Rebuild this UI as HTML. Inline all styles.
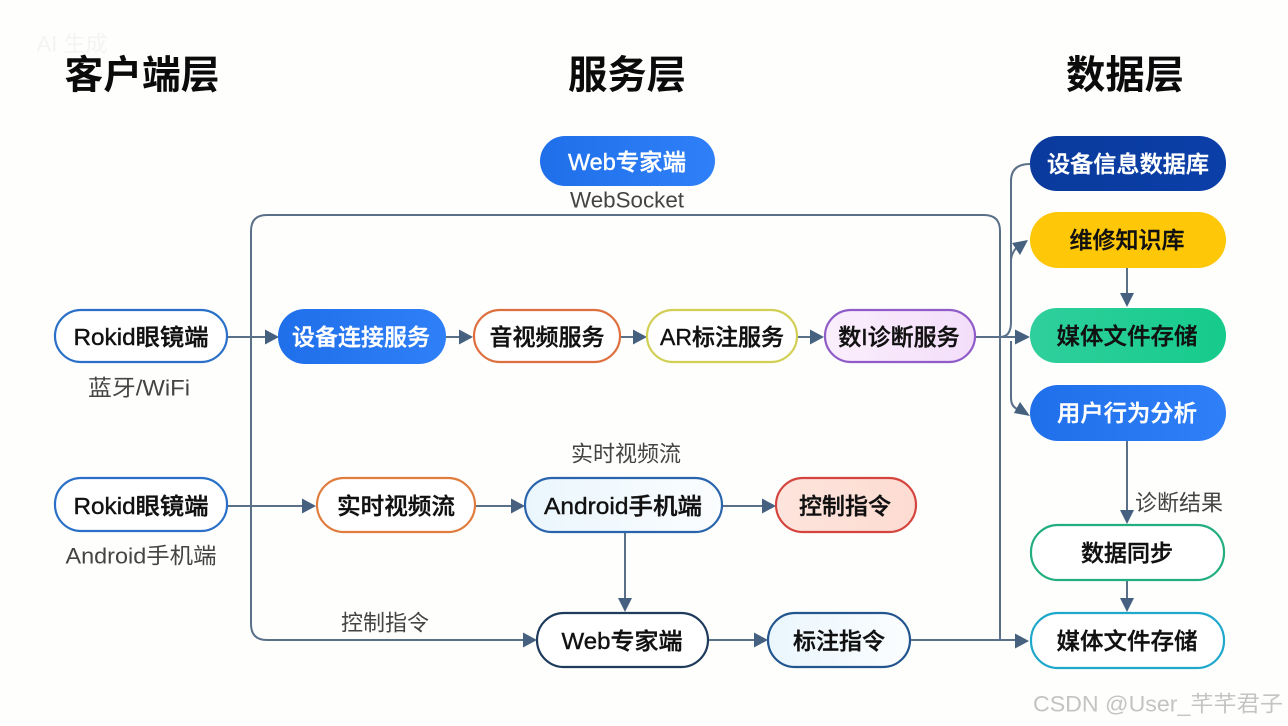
<!DOCTYPE html>
<html lang="zh"><head><meta charset="utf-8"><style>
html,body{margin:0;padding:0;background:#fefefc}
svg{display:block}
text{font-family:"Liberation Sans","Noto Sans CJK SC",sans-serif;text-anchor:middle;dominant-baseline:central}
.t{font-size:39px;font-weight:700;fill:#0b0b0b}
.n{font-size:23px;font-weight:500;fill:#111;stroke:#111;stroke-width:.4}
.w{font-size:23px;font-weight:500;fill:#fff;stroke:#fff;stroke-width:.4}
.l{font-size:22px;fill:#444;font-weight:400}
.c{fill:none;stroke:#5a7088;stroke-width:2}
</style></head><body>
<svg width="1288" height="726" viewBox="0 0 1288 726" xmlns="http://www.w3.org/2000/svg">
<defs>
<linearGradient id="gb" x1="0" x2="1"><stop offset="0" stop-color="#1f6fea"/><stop offset="1" stop-color="#2f80f8"/></linearGradient>
<linearGradient id="gn" x1="0" x2="1"><stop offset="0" stop-color="#0a3a9c"/><stop offset="1" stop-color="#0b3fa8"/></linearGradient>
<linearGradient id="gg" x1="0" x2="1"><stop offset="0" stop-color="#2fcf9c"/><stop offset="1" stop-color="#16cb8c"/></linearGradient>
<linearGradient id="gp" x1="0" x2="1"><stop offset="0" stop-color="#fbeefc"/><stop offset="1" stop-color="#f3defa"/></linearGradient>
<linearGradient id="gr" x1="0" x2="1"><stop offset="0" stop-color="#fde4dc"/><stop offset="1" stop-color="#fddcd2"/></linearGradient>
<linearGradient id="gs" x1="0" x2="1"><stop offset="0" stop-color="#eaf6fd"/><stop offset="1" stop-color="#fbfdfe"/></linearGradient>
</defs>
<rect width="1288" height="726" fill="#fefefc"/>

<text x="72" y="44" style="font-size:22px;fill:#f4f4f2">AI 生成</text>

<text class="t" x="142" y="76" textLength="155" lengthAdjust="spacingAndGlyphs">客户端层</text>
<text class="t" x="627" y="76" textLength="118" lengthAdjust="spacingAndGlyphs">服务层</text>
<text class="t" x="1125" y="76" textLength="118" lengthAdjust="spacingAndGlyphs">数据层</text>

<g class="c">
<path class="c" d="M251 624V231Q251 215 267 215H984Q1000 215 1000 231V640"/>
<path class="c" d="M251 624Q251 640 267 640H525"/>
<path class="c" d="M228 337H268"/>
<path class="c" d="M446 337H462"/>
<path class="c" d="M621 337H636"/>
<path class="c" d="M798 337H813"/>
<path class="c" d="M975 337H1018"/>
<path class="c" d="M1000 337Q1011 337 1011 322V181Q1011 164 1030 164"/>
<path class="c" d="M1011 260Q1012 250 1020 245"/>
<path class="c" d="M1011 341V398Q1011 408 1020 410"/>
<path class="c" d="M1127 268V298"/>
<path class="c" d="M1127 441V515"/>
<path class="c" d="M1127 580V602"/>
<path class="c" d="M228 506H305"/>
<path class="c" d="M475 506H515"/>
<path class="c" d="M722 506H765"/>
<path class="c" d="M625 532V602"/>
<path class="c" d="M708 640H757"/>
<path class="c" d="M910 640H1018"/>
</g>
<g fill="#46617f">
<polygon points="279,337 265,329.500 265,344.500"/>
<polygon points="473,337 459,329.500 459,344.500"/>
<polygon points="647,337 633,329.500 633,344.500"/>
<polygon points="824,337 810,329.500 810,344.500"/>
<polygon points="1030,337 1015,329.500 1015,344.500"/>
<polygon points="1028,240 1012,243 1020,255"/>
<polygon points="1030,416 1014,413 1020,402"/>
<polygon points="1127,307 1120,293 1134,293"/>
<polygon points="1127,524 1120,510 1134,510"/>
<polygon points="1127,612 1120,598 1134,598"/>
<polygon points="316,506 302,498.500 302,513.500"/>
<polygon points="525,506 511,498.500 511,513.500"/>
<polygon points="776,506 762,498.500 762,513.500"/>
<polygon points="625,612 618,598 632,598"/>
<polygon points="537,640 523,632.500 523,647.500"/>
<polygon points="768,640 754,632.500 754,647.500"/>
<polygon points="1029,641 1015,633.500 1015,648.500"/>
</g>

<rect x="540" y="136" width="175" height="50" rx="25" fill="url(#gb)"/>
<text class="w" x="627" y="162" textLength="118" lengthAdjust="spacingAndGlyphs">Web专家端</text>
<text class="l" x="627" y="200" textLength="114" lengthAdjust="spacingAndGlyphs">WebSocket</text>

<rect x="55" y="310" width="172" height="52" rx="26" fill="#fff" stroke="#2a70c8" stroke-width="2.2"/>
<text class="n" x="141" y="337" textLength="135" lengthAdjust="spacingAndGlyphs">Rokid眼镜端</text>
<text class="l" x="139" y="388" textLength="102" lengthAdjust="spacingAndGlyphs">蓝牙/WiFi</text>
<rect x="55" y="478" width="172" height="53" rx="26" fill="#fff" stroke="#2a70c8" stroke-width="2.2"/>
<text class="n" x="141" y="506" textLength="135" lengthAdjust="spacingAndGlyphs">Rokid眼镜端</text>
<text class="l" x="141" y="556" textLength="151" lengthAdjust="spacingAndGlyphs">Android手机端</text>

<rect x="278" y="309" width="168" height="55" rx="27" fill="url(#gb)"/>
<text class="w" x="361" y="337">设备连接服务</text>
<rect x="474" y="310" width="146" height="52" rx="26" fill="#fff" stroke="#de7040" stroke-width="2.2"/>
<text class="n" x="547" y="337">音视频服务</text>
<rect x="647" y="310" width="150" height="52" rx="26" fill="#fff" stroke="#d2cf55" stroke-width="2.2"/>
<text class="n" x="722" y="337">AR标注服务</text>
<rect x="825" y="310" width="150" height="52" rx="26" fill="url(#gp)" stroke="#8f5cc8" stroke-width="2.2"/>
<text class="n" x="899" y="337">数I诊断服务</text>

<rect x="1030" y="136" width="196" height="55" rx="27" fill="url(#gn)"/>
<text class="w" x="1128" y="164" textLength="162" lengthAdjust="spacingAndGlyphs">设备信息数据库</text>
<rect x="1030" y="212" width="196" height="56" rx="28" fill="#fec707"/>
<text class="n" x="1127" y="240">维修知识库</text>
<rect x="1030" y="308" width="196" height="55" rx="27" fill="url(#gg)"/>
<text class="n" x="1127" y="336" textLength="141" lengthAdjust="spacingAndGlyphs">媒体文件存储</text>
<rect x="1030" y="385" width="196" height="56" rx="28" fill="url(#gb)"/>
<text class="w" x="1127" y="413" textLength="140" lengthAdjust="spacingAndGlyphs">用户行为分析</text>
<text class="l" x="1179" y="503">诊断结果</text>
<rect x="1031" y="525" width="193" height="55" rx="27" fill="#fff" stroke="#22ae80" stroke-width="2.2"/>
<text class="n" x="1127" y="553">数据同步</text>
<rect x="1031" y="613" width="193" height="55" rx="27" fill="#fff" stroke="#1fa8cc" stroke-width="2.2"/>
<text class="n" x="1127" y="641" textLength="141" lengthAdjust="spacingAndGlyphs">媒体文件存储</text>

<rect x="317" y="478" width="158" height="54" rx="27" fill="#fff" stroke="#e07c3e" stroke-width="2.2"/>
<text class="n" x="396" y="506" textLength="118" lengthAdjust="spacingAndGlyphs">实时视频流</text>
<text class="l" x="626" y="454">实时视频流</text>
<rect x="525" y="478" width="197" height="54" rx="27" fill="url(#gs)" stroke="#2a64ac" stroke-width="2.2"/>
<text class="n" x="623" y="506" textLength="158" lengthAdjust="spacingAndGlyphs">Android手机端</text>
<rect x="776" y="478" width="140" height="54" rx="27" fill="url(#gr)" stroke="#d5453f" stroke-width="2.2"/>
<text class="n" x="845" y="506">控制指令</text>

<text class="l" x="385" y="623">控制指令</text>
<rect x="537" y="613" width="171" height="54" rx="27" fill="#fff" stroke="#1e3a5c" stroke-width="2.2"/>
<text class="n" x="622" y="641" textLength="121" lengthAdjust="spacingAndGlyphs">Web专家端</text>
<rect x="768" y="613" width="142" height="54" rx="27" fill="url(#gs)" stroke="#23558f" stroke-width="2.2"/>
<text class="n" x="839" y="641">标注指令</text>

<text x="1158" y="704" textLength="250" lengthAdjust="spacingAndGlyphs" style="font-size:22px;fill:#c4c4c4">CSDN @User_芊芊君子</text>
</svg>
</body></html>
